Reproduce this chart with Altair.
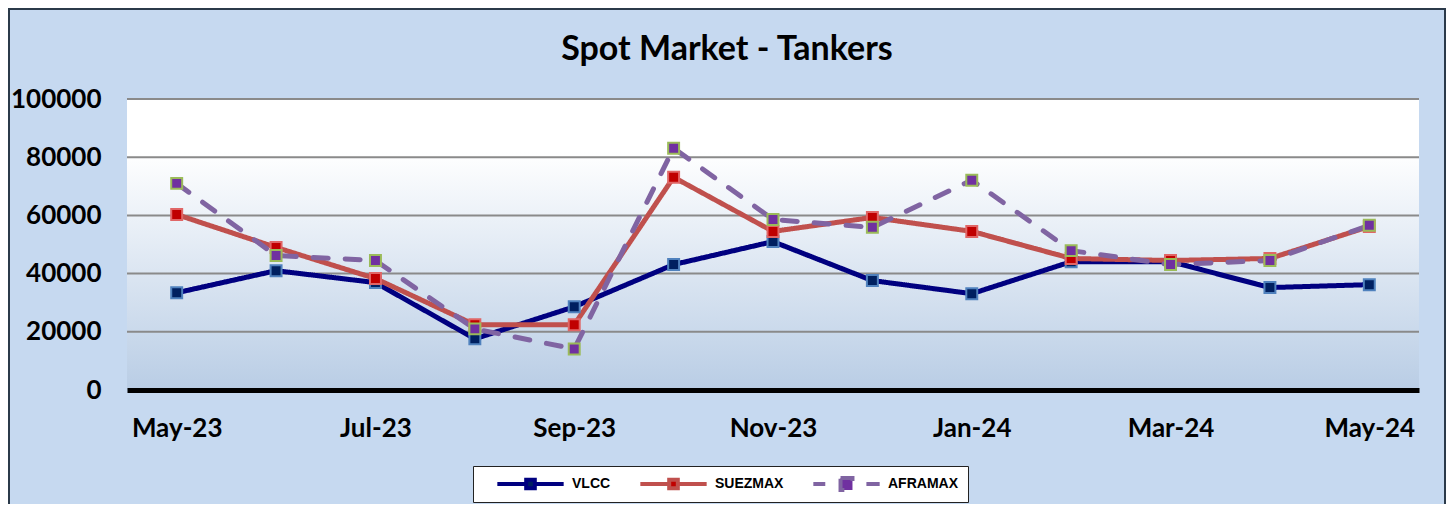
import altair as alt
import pandas as pd

months = ["May-23", "Jun-23", "Jul-23", "Aug-23", "Sep-23", "Oct-23", "Nov-23",
          "Dec-23", "Jan-24", "Feb-24", "Mar-24", "Apr-24", "May-24"]
shown_months = ["May-23", "Jul-23", "Sep-23", "Nov-23", "Jan-24", "Mar-24", "May-24"]
series = ["VLCC", "SUEZMAX", "AFRAMAX"]
vlcc = [33400, 41000, 36900, 17600, 28600, 43100, 51000, 37600, 33100, 44100, 44100, 35200, 36200]
suezmax = [60300, 49000, 38300, 22400, 22400, 73100, 54500, 59300, 54500, 45200, 44500, 45200, 56200]
aframax = [71000, 46200, 44500, 21000, 14100, 83100, 58600, 55900, 72100, 47900, 43100, 44500, 56600]
y_ticks = [0, 20000, 40000, 60000, 80000, 100000]
grid_values = [20000, 40000, 60000, 80000, 100000]

line_colors = ["#000080", "#C0504D", "#8064A2"]
marker_fill = ["#002060", "#C00000", "#7030A0"]
marker_stroke = ["#4F81BD", "#E06666", "#9BBB59"]

rows = []
for name, vals in zip(series, [vlcc, suezmax, aframax]):
    for m, v in zip(months, vals):
        rows.append({"month": m, "series": name, "value": v})
df = pd.DataFrame(rows)

W, H = 1292, 291
FONT = "Lato"

x_enc = alt.X("month:O", sort=months,
              scale=alt.Scale(type="point", padding=0.5),
              axis=alt.Axis(values=shown_months, labelAngle=0, labelFont=FONT,
                            labelFontSize=26, labelFontWeight="bold", labelColor="black",
                            domainColor="black", domainWidth=5, ticks=False,
                            labelPadding=25, title=None, zindex=1))
y_scale = alt.Scale(domain=[0, 100000], nice=False)
y_enc = alt.Y("value:Q", scale=y_scale,
              axis=alt.Axis(values=y_ticks, format="d", labelFont=FONT, labelFontSize=26,
                            labelFontWeight="bold", labelColor="black", domain=False,
                            ticks=False, grid=False, labelPadding=26, title=None, zindex=1))

bg = alt.Chart(pd.DataFrame({"d": [0]})).mark_rect(
    color=alt.LinearGradient(
        gradient="linear", x1=0, x2=0, y1=0, y2=1,
        stops=[alt.GradientStop(offset=0, color="#FFFFFF"),
               alt.GradientStop(offset=0.18, color="#FFFFFF"),
               alt.GradientStop(offset=1, color="#B9CDE5")])
).encode(x=alt.value(0), x2=alt.value(W), y=alt.value(0), y2=alt.value(H))

# outer chart frame (decoration, in pixels around the plot area)
frame = alt.Chart(pd.DataFrame({"d": [0]})).mark_rect(
    fill=None, stroke="#2B3A4A", strokeWidth=2, clip=False
).encode(x=alt.value(-118), x2=alt.value(W + 26), y=alt.value(-90), y2=alt.value(H + 140))

grid = alt.Chart(pd.DataFrame({"g": grid_values})).mark_rule(
    color="#8A8A8A", strokeWidth=2
).encode(y=alt.Y("g:Q", scale=y_scale))

legend_shape = ("datum.value === 'AFRAMAX' ? "
                "'M-1,0H-0.64M0.6,0H1M-0.18,-0.18H0.18V0.18H-0.18Z' : "
                "'M-1,0H-0.13M0.13,0H1M-0.13,-0.13H0.13V0.13H-0.13Z'")
legend_fill = ("datum.value === 'VLCC' ? '#002060' : "
               "datum.value === 'SUEZMAX' ? '#C00000' : '#7030A0'")

lines = alt.Chart(df).mark_line(strokeWidth=5, strokeCap="round").encode(
    x=x_enc,
    y=y_enc,
    color=alt.Color("series:N", sort=series,
                    scale=alt.Scale(domain=series, range=line_colors),
                    legend=alt.Legend(
                        orient="none", legendX=346, legendY=367, direction="horizontal",
                        title="\u00a0", titleOrient="left", titleFontSize=14, titlePadding=12,
                        labelFont="Liberation Sans", labelFontSize=14, labelFontWeight="bold",
                        labelColor="black", labelOffset=6, columnPadding=27,
                        symbolSize=4400, symbolStrokeWidth=4, clipHeight=16,
                        padding=10, fillColor="white", strokeColor="#222222",
                        symbolType={"expr": legend_shape},
                        symbolFillColor={"expr": legend_fill},
                    )),
    strokeDash=alt.StrokeDash("series:N", sort=series,
                              scale=alt.Scale(domain=series, range=[[1, 0], [1, 0], [15, 17]]),
                              legend=None),
)

points = alt.Chart(df).mark_point(shape="square", filled=True, size=120, strokeWidth=2,
                                  opacity=1).encode(
    x=x_enc,
    y=y_enc,
    fill=alt.Fill("series:N", scale=alt.Scale(domain=series, range=marker_fill), legend=None),
    stroke=alt.Stroke("series:N", scale=alt.Scale(domain=series, range=marker_stroke), legend=None),
)

chart = alt.layer(bg, grid, lines, points, frame).properties(
    width=W, height=H,
    title=alt.TitleParams("Spot Market - Tankers", font=FONT, fontSize=34, fontWeight="bold",
                          color="black", anchor="middle", frame="group", dx=-46, offset=-59),
    autosize=alt.AutoSizeParams(type="none"),
    padding={"left": 119, "top": 91, "right": 27, "bottom": 114},
    background="#C6D9F0",
).configure_view(stroke=None)

chart.save("out.html", embed_options={"renderer": "svg", "actions": False})
